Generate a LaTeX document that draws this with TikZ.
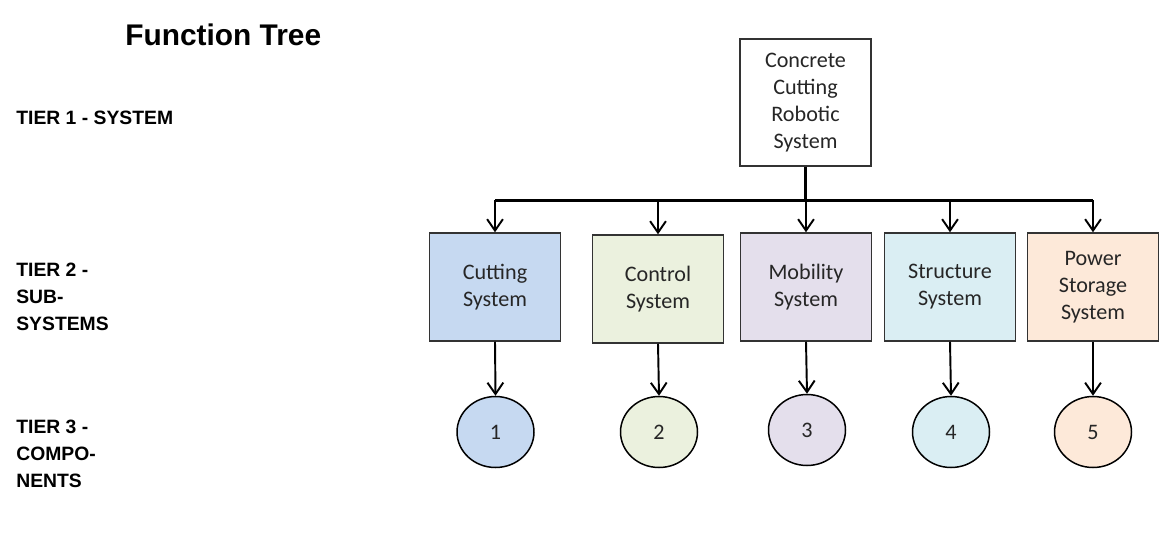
\documentclass[tikz,border=0pt]{standalone}
\usepackage{fontspec}
\newfontfamily\boxfont{Carlito}
\newfontfamily\tierfont{Liberation Sans}
\usetikzlibrary{shapes.geometric,arrows.meta}

\definecolor{cutfill}{HTML}{C6D9F1}
\definecolor{ctrlfill}{HTML}{EBF1DE}
\definecolor{mobfill}{HTML}{E4DFEC}
\definecolor{strfill}{HTML}{DAEEF3}
\definecolor{powfill}{HTML}{FDE9D9}

\begin{document}
\begin{tikzpicture}[x=0.02cm, y=-0.02cm,
          subbox/.style={rectangle, draw=black!80, line width=0.85pt,
            minimum width=2.62cm, minimum height=2.16cm, align=center,
            text=black!85, font=\boxfont\fontsize{12.6}{15.3}\selectfont},
          partcircle/.style={ellipse, draw=black, line width=0.85pt,
            minimum width=1.54cm, minimum height=1.42cm,
            text=black!85, font=\boxfont\fontsize{12.6}{15.3}\selectfont},
          tierlabel/.style={anchor=north west, inner sep=0pt, align=left,
            font=\tierfont\bfseries\fontsize{11}{15.3}\selectfont},
          link/.style={-{Straight Barb[length=6.5pt,width=9pt]}, line width=1.1pt}]

        \useasboundingbox (0,0) rectangle (1175,555);

        % titles and tiers
        \node[anchor=north west, inner sep=0pt,
              font=\tierfont\bfseries\fontsize{17}{20}\selectfont] (title) at (125,24) {Function Tree};
        \node[tierlabel] (tier1) at (16,111) {TIER 1 - SYSTEM};
        \node[tierlabel] (tier2) at (16,263) {TIER 2 -\\SUB-\\SYSTEMS};
        \node[tierlabel] (tier3) at (16,420) {TIER 3 -\\COMPO-\\NENTS};

        % tier 1
        \node[subbox, fill=white, minimum height=2.54cm] (sys) at (805.5,102.5)
              {Concrete\\Cutting\\Robotic\\System};

        % tier 2
        \node[subbox, fill=cutfill]  (cut)  at (495,287)  {Cutting\\System};
        \node[subbox, fill=ctrlfill] (ctrl) at (658,289)  {Control\\System};
        \node[subbox, fill=mobfill]  (mob)  at (806,287)  {Mobility\\System};
        \node[subbox, fill=strfill]  (str)  at (950,287)  {Structure\\System};
        \node[subbox, fill=powfill]  (pow)  at (1093,287) {Power\\Storage\\System};

        % tier 3
        \node[partcircle, fill=cutfill]  (c1) at (495.5,432) {1};
        \node[partcircle, fill=ctrlfill] (c2) at (659,432)   {2};
        \node[partcircle, fill=mobfill]  (c3) at (807,430)   {3};
        \node[partcircle, fill=strfill]  (c4) at (951,432)   {4};
        \node[partcircle, fill=powfill]  (c5) at (1093,432)  {5};

        % bus
        \coordinate (bus) at (0,200);
        \draw[line width=1.4pt] (sys.south) -- (sys.south |- bus);
        \draw[line width=1.7pt] (cut.north |- bus) -- (pow.north |- bus);

        \draw[link] (cut.north |- bus)  -- (cut.north);
        \draw[link] (ctrl.north |- bus) -- (ctrl.north);
        \draw[link] (mob.north |- bus)  -- (mob.north);
        \draw[link] (str.north |- bus)  -- (str.north);
        \draw[link] (pow.north |- bus)  -- (pow.north);

        \draw[link] (cut.south)  -- (c1.north);
        \draw[link] (ctrl.south) -- (c2.north);
        \draw[link] (mob.south)  -- (c3.north);
        \draw[link] (str.south)  -- (c4.north);
        \draw[link] (pow.south)  -- (c5.north);

      \end{tikzpicture}
\end{document}
